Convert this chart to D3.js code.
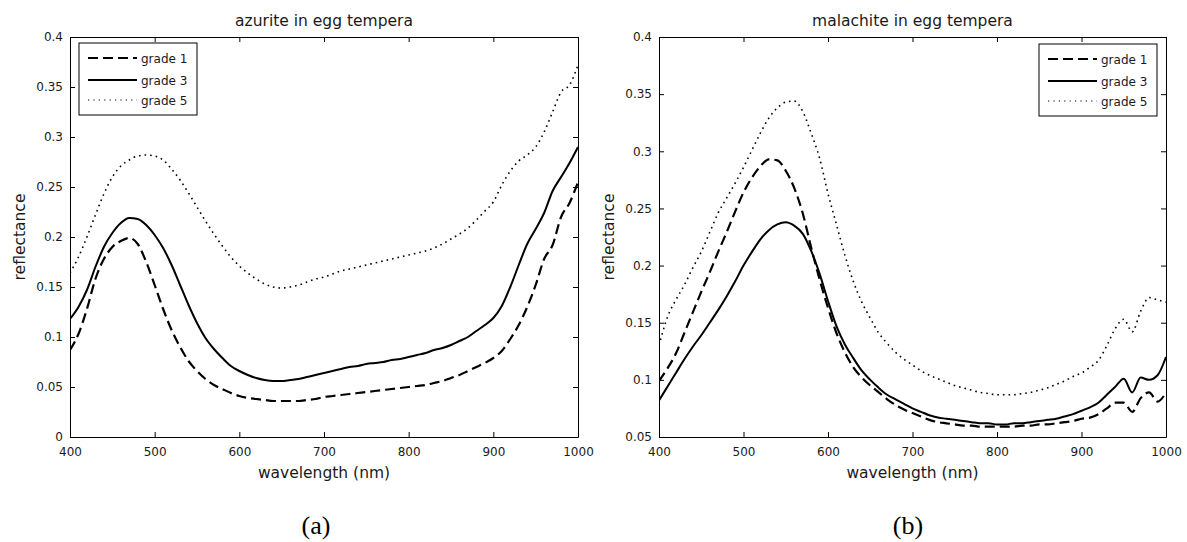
<!DOCTYPE html>
<html>
<head>
<meta charset="utf-8">
<script src="https://cdn.jsdelivr.net/npm/d3@7"></script>
<style>
body { margin: 0; background: #fff; }
svg text { font-family: "DejaVu Sans", sans-serif; fill: #1a1a1a; }
.axis path, .axis line { stroke: #000; }
</style>
</head>
<body>
<svg id="fig" width="1187" height="542"></svg>
<script>
// sampling grid (nm)
var wavelengths = [400,410,420,430,440,450,460,470,480,490,500,510,520,530,540,550,560,570,580,590,
    600,610,620,630,640,650,660,670,680,690,700,710,720,730,740,750,760,770,780,790,
    800,810,820,830,840,850,860,870,880,890,900,910,920,930,940,950,960,970,980,990,1000];

// (a) azurite in egg tempera
var azuriteGrade1 = [.087,.103,.128,.158,.178,.190,.196,.199,.193,.175,.152,.128,.107,.090,.076,.066,.058,.052,.048,.044,
    .041,.039,.038,.037,.036,.036,.036,.036,.037,.038,.040,.041,.042,.043,.044,.045,.046,.047,.048,.049,
    .050,.051,.052,.054,.056,.059,.062,.066,.070,.074,.079,.086,.098,.112,.130,.152,.178,.192,.220,.234,.255];
var azuriteGrade3 = [.118,.130,.147,.170,.190,.204,.214,.219,.218,.212,.202,.189,.172,.152,.132,.114,.099,.088,.079,.071,
    .066,.062,.059,.057,.056,.056,.057,.058,.060,.062,.064,.066,.068,.070,.071,.073,.074,.075,.077,.078,
    .080,.082,.084,.087,.089,.092,.096,.100,.106,.112,.119,.131,.150,.172,.193,.208,.224,.246,.260,.274,.290];
var azuriteGrade5 = [.164,.180,.200,.222,.243,.260,.271,.277,.281,.282,.281,.277,.268,.257,.244,.230,.216,.203,.191,.180,
    .171,.164,.158,.153,.150,.149,.150,.152,.155,.158,.160,.163,.166,.168,.170,.172,.174,.176,.178,.180,
    .182,.184,.186,.189,.193,.198,.203,.209,.217,.226,.235,.252,.266,.276,.282,.290,.305,.325,.345,.352,.372];

// (b) malachite in egg tempera
var malachiteGrade1 = [.099,.110,.123,.141,.159,.177,.194,.212,.229,.247,.264,.277,.287,.293,.292,.283,.268,.246,.216,.188,
    .163,.141,.124,.111,.102,.095,.089,.083,.078,.074,.071,.068,.065,.063,.062,.061,.060,.060,.059,.059,
    .059,.059,.059,.060,.060,.061,.061,.062,.063,.064,.066,.067,.070,.075,.080,.080,.072,.084,.089,.081,.089];
var malachiteGrade3 = [.082,.094,.106,.118,.129,.139,.150,.161,.173,.186,.200,.212,.223,.231,.236,.238,.235,.228,.213,.193,
    .169,.147,.131,.119,.108,.100,.093,.087,.083,.079,.075,.072,.069,.067,.066,.065,.064,.063,.062,.062,
    .061,.061,.062,.062,.063,.064,.065,.066,.068,.070,.073,.076,.080,.087,.094,.101,.089,.102,.100,.104,.120];
var malachiteGrade5 = [.130,.155,.170,.183,.198,.212,.229,.246,.259,.272,.286,.301,.316,.329,.338,.343,.344,.335,.316,.294,
    .263,.236,.209,.186,.168,.154,.141,.132,.124,.118,.113,.108,.104,.101,.098,.095,.093,.091,.089,.088,
    .087,.087,.087,.088,.089,.091,.093,.096,.099,.103,.106,.111,.117,.130,.145,.153,.142,.160,.172,.170,.168];

var gradeNames = ["grade 1", "grade 3", "grade 5"];
var xTicks = [400, 500, 600, 700, 800, 900, 1000];
var azuriteYTicks = [0, 0.05, 0.1, 0.15, 0.2, 0.25, 0.3, 0.35, 0.4];
var malachiteYTicks = [0.05, 0.1, 0.15, 0.2, 0.25, 0.3, 0.35, 0.4];

var lineStyle = {
    "grade 1": { width: 2.2, dash: "10,5" },
    "grade 3": { width: 2, dash: null },
    "grade 5": { width: 1.6, dash: "1.6,4" }
};

var svg = d3.select("#fig");

function fmt(d) { return String(+d.toFixed(2)); }

function drawPanel(p) {
    var g = svg.append("g");
    var x = d3.scaleLinear().domain([400, 1000]).range([p.left, p.right]);
    var y = d3.scaleLinear().domain(p.yDomain).range([p.bottom, p.top]);

    g.append("g").attr("class", "axis")
        .attr("transform", "translate(0," + p.bottom + ")")
        .call(d3.axisBottom(x).tickValues(xTicks).tickFormat(fmt).tickSize(-5).tickSizeOuter(0).tickPadding(10));
    g.append("g").attr("class", "axis")
        .attr("transform", "translate(" + p.left + ",0)")
        .call(d3.axisLeft(y).tickValues(p.yTicks).tickFormat(fmt).tickSize(-5).tickSizeOuter(0).tickPadding(7));
    g.append("g").attr("class", "axis")
        .attr("transform", "translate(0," + p.top + ")")
        .call(d3.axisTop(x).tickValues(xTicks).tickFormat("").tickSize(-5).tickSizeOuter(0));
    g.append("g").attr("class", "axis")
        .attr("transform", "translate(" + p.right + ",0)")
        .call(d3.axisRight(y).tickValues(p.yTicks).tickFormat("").tickSize(-5).tickSizeOuter(0));
    g.selectAll(".axis").attr("font-size", 12);

    var line = d3.line()
        .x(function (d) { return x(d[0]); })
        .y(function (d) { return y(d[1]); })
        .curve(d3.curveMonotoneX);

    var clipId = "clip" + p.id;
    g.append("clipPath").attr("id", clipId).append("rect")
        .attr("x", p.left).attr("y", p.top)
        .attr("width", p.right - p.left).attr("height", p.bottom - p.top);

    g.append("g").attr("clip-path", "url(#" + clipId + ")")
        .selectAll("path.curve")
        .data(p.series)
        .enter()
        .append("path")
        .attr("class", "curve")
        .attr("fill", "none")
        .attr("stroke", "#000")
        .attr("stroke-width", function (d) { return lineStyle[d.name].width; })
        .attr("stroke-dasharray", function (d) { return lineStyle[d.name].dash; })
        .attr("d", function (d) { return line(wavelengths.map(function (w, i) { return [w, d.values[i]]; })); });

    // titles and labels
    var cx = (p.left + p.right) / 2;
    g.append("text").attr("x", cx).attr("y", 26).attr("text-anchor", "middle")
        .attr("font-size", 15.5).text(p.title);
    g.append("text").attr("x", cx).attr("y", 478).attr("text-anchor", "middle")
        .attr("font-size", 15.5).text("wavelength (nm)");
    g.append("text").attr("transform", "translate(" + (p.left - 45) + "," + ((p.top + p.bottom) / 2) + ") rotate(-90)")
        .attr("text-anchor", "middle").attr("font-size", 15.5).text("reflectance");
    g.append("text").attr("x", p.capX).attr("y", 534).attr("text-anchor", "middle")
        .attr("font-size", 26).style("font-family", "'Liberation Serif', 'Times New Roman', serif")
        .style("fill", "#000").text(p.caption);

    // legend
    var lg = g.append("g").attr("transform", "translate(" + p.legendX + "," + p.legendY + ")");
    lg.append("rect").attr("width", 118).attr("height", 72)
        .attr("fill", "#fff").attr("stroke", "#000").attr("stroke-width", 1);
    var rows = lg.selectAll("g.row").data(gradeNames).enter().append("g")
        .attr("class", "row")
        .attr("transform", function (d, i) { return "translate(0," + [15, 37, 57][i] + ")"; });
    rows.append("line").attr("x1", 9).attr("x2", 58).attr("y1", 0).attr("y2", 0)
        .attr("stroke", "#000")
        .attr("stroke-width", function (d) { return d == "grade 5" ? 1.2 : 2.2; })
        .attr("stroke-dasharray", function (d) { return d == "grade 5" ? "1.2,4.2" : lineStyle[d].dash; });
    rows.append("text").attr("x", 62).attr("y", 4.5).attr("font-size", 12).text(function (d) { return d; });
}

drawPanel({
    id: "a", left: 70, right: 578, top: 37, bottom: 437,
    yDomain: [0, 0.4], yTicks: azuriteYTicks,
    title: "azurite in egg tempera", caption: "(a)", capX: 316,
    legendX: 79, legendY: 43,
    series: [
        { name: "grade 1", values: azuriteGrade1 },
        { name: "grade 3", values: azuriteGrade3 },
        { name: "grade 5", values: azuriteGrade5 }
    ]
});

drawPanel({
    id: "b", left: 659, right: 1166, top: 37, bottom: 437,
    yDomain: [0.05, 0.4], yTicks: malachiteYTicks,
    title: "malachite in egg tempera", caption: "(b)", capX: 908,
    legendX: 1039, legendY: 44,
    series: [
        { name: "grade 1", values: malachiteGrade1 },
        { name: "grade 3", values: malachiteGrade3 },
        { name: "grade 5", values: malachiteGrade5 }
    ]
});
</script>
</body>
</html>
